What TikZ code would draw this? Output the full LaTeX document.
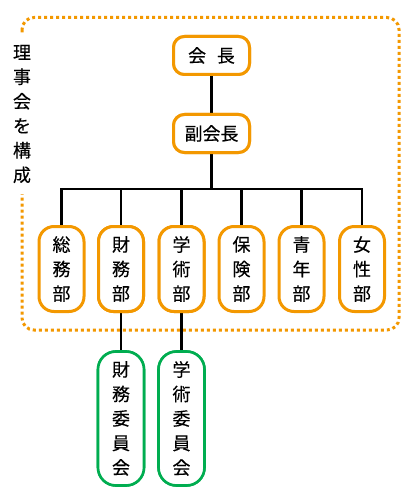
\documentclass[tikz,border=0pt]{standalone}
\usepackage{fontspec}
\setmainfont{Noto Sans CJK JP}
\newfontfamily\boxfont{Noto Sans CJK JP}[FakeBold=0.3]
\definecolor{orgline}{HTML}{F39800}
\definecolor{grnline}{HTML}{00AD50}
\begin{document}
\begin{tikzpicture}[x=1pt,y=-1pt,
  txt/.style={font=\boxfont\fontsize{18}{24.5}\selectfont},
  ob/.style={txt, draw=orgline, line width=3pt, rounded corners=11pt, fill=white,
    minimum width=76pt, minimum height=38pt, inner sep=0pt},
  db/.style={txt, draw=orgline, line width=3pt, rounded corners=15pt, fill=white,
    minimum width=45pt, minimum height=85pt, inner sep=0pt, align=center},
  gb/.style={txt, draw=grnline, line width=2.6pt, rounded corners=18pt, fill=white,
    minimum width=46pt, minimum height=134pt, inner sep=0pt, align=center},
  conn/.style={draw=black, line width=2.6pt},
  frame/.style={draw=orgline, line width=3pt, dash pattern=on 3pt off 3pt, rounded corners=12pt}
]
\useasboundingbox (0,0) rectangle (409,500);
\fill[white] (0,0) rectangle (409,500);
% dotted frame
\draw[frame] (22,17.5) rectangle (399,330);
% label
\node[txt, fill=white, inner xsep=2pt, inner ysep=11pt, align=center] (lbl) at (22,114) {理\\事\\会\\を\\構\\成};
\coordinate (bus) at (211.5,189);
% nodes
\node[ob] (pres) at (211.5,55.5) {会\hspace{0.6em}長};
\node[ob] (vp) at (211.5,133.5) {副会長};
\node[db] (d1) at (61.5,269) {総\\務\\部};
\node[db] (d2) at (121,269) {財\\務\\部};
\node[db] (d3) at (181.5,269) {学\\術\\部};
\node[db] (d4) at (241.5,269) {保\\険\\部};
\node[db] (d5) at (301.5,269) {青\\年\\部};
\node[db] (d6) at (362,269) {女\\性\\部};
\node[gb] (g1) at (121,418.5) {財\\務\\委\\員\\会};
\node[gb] (g2) at (181.5,418.5) {学\\術\\委\\員\\会};
% connectors
\draw[conn] (pres) -- (vp);
\draw[conn] (vp.south) -- (bus);
\foreach \d in {d1,d2,d3,d4,d5,d6} {\draw[conn] (\d.north) |- (bus);}
\draw[conn] (d2) -- (g1);
\draw[conn] (d3) -- (g2);
% redraw boxes on top of connector ends
\node[ob] at (pres) {会\hspace{0.6em}長};
\node[ob] at (vp) {副会長};
\node[db] at (d2) {財\\務\\部};
\node[db] at (d3) {学\\術\\部};
\node[gb] at (g1) {財\\務\\委\\員\\会};
\node[gb] at (g2) {学\\術\\委\\員\\会};
\end{tikzpicture}
\end{document}
